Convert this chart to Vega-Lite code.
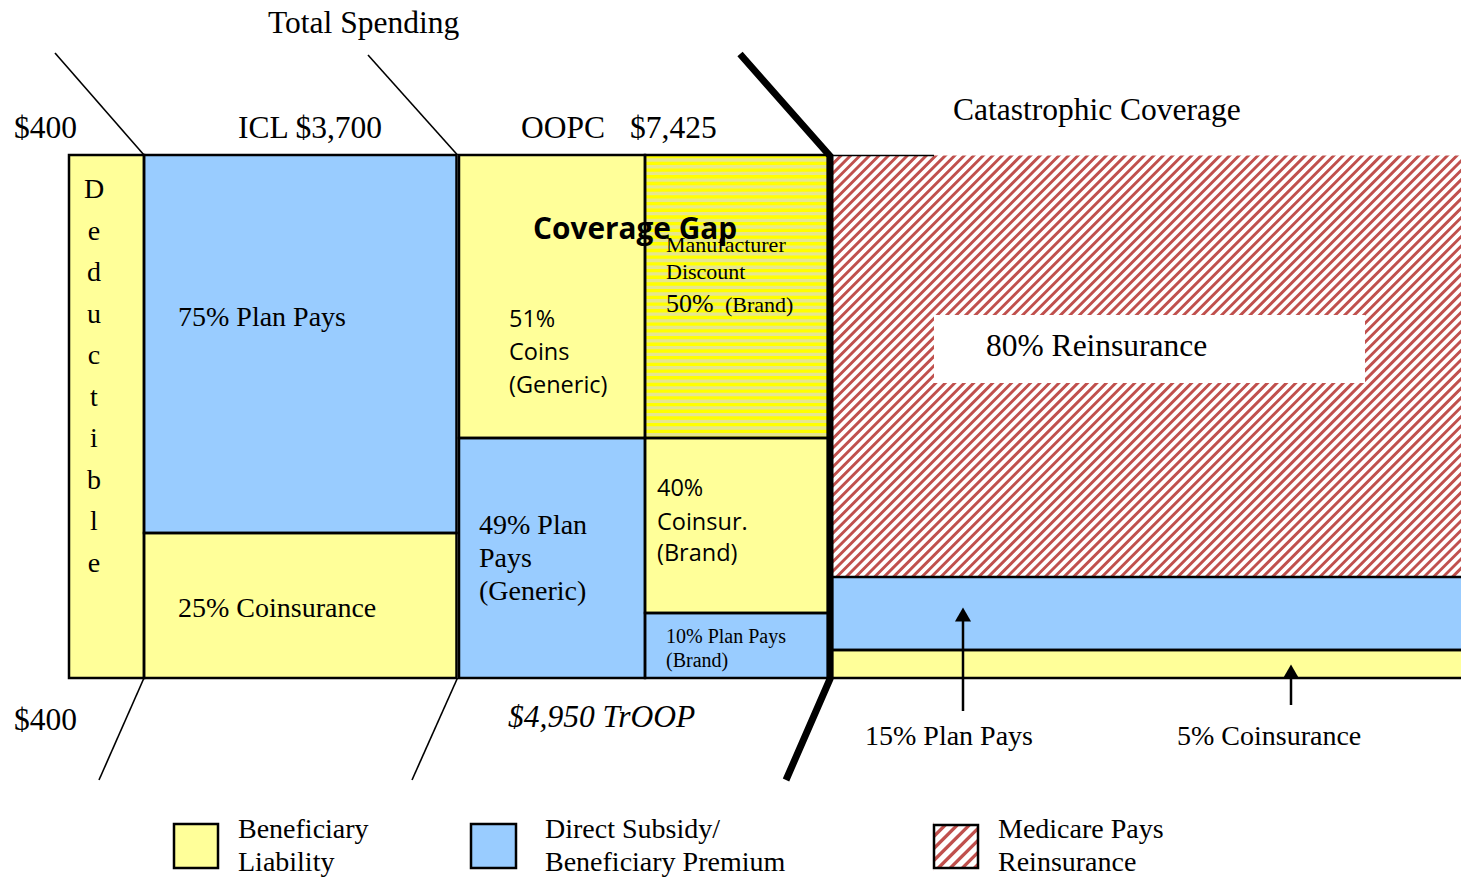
{
  "$schema": "https://vega.github.io/schema/vega-lite/v6.json",
  "width": 1461,
  "height": 877,
  "padding": 0,
  "autosize": {"type": "fit", "contains": "padding"},
  "background": "white",
  "config": {"view": {"stroke": null}, "axis": {"disable": true}, "legend": {"disable": true}},
  "datasets": {
    "hatchMain": [{"x": 877.8, "y": 97.8, "x2": 1415.2, "y2": 635.2}],
    "masksMain": [
      {"x": 0, "y": 0, "x2": 1461, "y2": 155.5},
      {"x": 0, "y": 678.5, "x2": 1461, "y2": 877}
    ],
    "hatchLegend": [{"x": 932.7, "y": 823.2, "x2": 979.3, "y2": 869.8}],
    "masksLegend": [
      {"x": 895, "y": 790, "x2": 933.5, "y2": 877},
      {"x": 978.5, "y": 790, "x2": 1012, "y2": 877},
      {"x": 933.5, "y": 790, "x2": 978.5, "y2": 824.5},
      {"x": 933.5, "y": 868.5, "x2": 978.5, "y2": 877}
    ],
    "rects": [
      {"x": 69, "y": 155, "x2": 144, "y2": 678, "kind": "ben"},
      {"x": 144, "y": 155, "x2": 456.5, "y2": 533, "kind": "sub"},
      {"x": 144, "y": 533, "x2": 456.5, "y2": 678, "kind": "ben"},
      {"x": 459, "y": 155, "x2": 645, "y2": 438, "kind": "ben"},
      {"x": 459, "y": 438, "x2": 645, "y2": 678, "kind": "sub"},
      {"x": 645, "y": 155, "x2": 828, "y2": 438, "kind": "khaki"},
      {"x": 645, "y": 438, "x2": 828, "y2": 613, "kind": "ben"},
      {"x": 645, "y": 613, "x2": 828, "y2": 678, "kind": "sub"},
      {"x": 832, "y": 577, "x2": 1465, "y2": 650, "kind": "sub"},
      {"x": 832, "y": 650, "x2": 1465, "y2": 678, "kind": "ben"},
      {"x": 934, "y": 315, "x2": 1365, "y2": 383, "kind": "white"},
      {"x": 174, "y": 824, "x2": 218, "y2": 868, "kind": "ben"},
      {"x": 471, "y": 824, "x2": 516, "y2": 868, "kind": "sub"},
      {"x": 934, "y": 825, "x2": 978, "y2": 868, "kind": "hatch"}
    ],
    "stripes": [{"x": 736.5, "y": 155, "x2": 736.5, "y2": 438}],
    "thin": [
      {"x": 55, "y": 53, "x2": 144, "y2": 155},
      {"x": 368, "y": 55, "x2": 457.5, "y2": 155},
      {"x": 144, "y": 678, "x2": 99, "y2": 780},
      {"x": 457.5, "y": 678, "x2": 412, "y2": 780},
      {"x": 830, "y": 155.5, "x2": 934, "y2": 155.5}
    ],
    "thick": [
      {"x": 740, "y": 54, "o": 1},
      {"x": 830, "y": 156, "o": 2},
      {"x": 830, "y": 679, "o": 3},
      {"x": 786, "y": 780, "o": 4}
    ],
    "shafts": [
      {"x": 963, "y": 618, "x2": 963, "y2": 711},
      {"x": 1291, "y": 676, "x2": 1291, "y2": 705}
    ],
    "heads": [
      {"x": 963, "y": 614.5},
      {"x": 1291, "y": 671.5}
    ],
    "texts": [
      {"x": 268, "y": 33, "label": "Total Spending", "grp": "big"},
      {"x": 14, "y": 138, "label": "$400", "grp": "big"},
      {"x": 238, "y": 138, "label": "ICL $3,700", "grp": "big"},
      {"x": 521, "y": 138, "label": "OOPC", "grp": "big"},
      {"x": 630, "y": 138, "label": "$7,425", "grp": "big"},
      {"x": 953, "y": 120, "label": "Catastrophic Coverage", "grp": "big"},
      {"x": 14, "y": 730, "label": "$400", "grp": "big"},
      {"x": 986, "y": 356, "label": "80%  Reinsurance", "grp": "big"},
      {"x": 508, "y": 727, "label": "$4,950 TrOOP", "grp": "ital"},
      {"x": 178, "y": 326, "label": "75% Plan Pays", "grp": "med"},
      {"x": 178, "y": 617, "label": "25% Coinsurance", "grp": "med"},
      {"x": 479, "y": 534, "label": "49% Plan", "grp": "med"},
      {"x": 479, "y": 567, "label": "Pays", "grp": "med"},
      {"x": 479, "y": 600, "label": "(Generic)", "grp": "med"},
      {"x": 865, "y": 745, "label": "15% Plan Pays", "grp": "med"},
      {"x": 1177, "y": 745, "label": "5% Coinsurance", "grp": "med"},
      {"x": 238, "y": 838, "label": "Beneficiary", "grp": "med"},
      {"x": 238, "y": 871, "label": "Liability", "grp": "med"},
      {"x": 545, "y": 838, "label": "Direct Subsidy/", "grp": "med"},
      {"x": 545, "y": 871, "label": "Beneficiary Premium", "grp": "med"},
      {"x": 998, "y": 838, "label": "Medicare Pays", "grp": "med"},
      {"x": 998, "y": 871, "label": "Reinsurance", "grp": "med"},
      {"x": 94, "y": 198, "label": "D", "grp": "ded"},
      {"x": 94, "y": 240, "label": "e", "grp": "ded"},
      {"x": 94, "y": 281, "label": "d", "grp": "ded"},
      {"x": 94, "y": 323, "label": "u", "grp": "ded"},
      {"x": 94, "y": 364, "label": "c", "grp": "ded"},
      {"x": 94, "y": 406, "label": "t", "grp": "ded"},
      {"x": 94, "y": 447, "label": "i", "grp": "ded"},
      {"x": 94, "y": 489, "label": "b", "grp": "ded"},
      {"x": 94, "y": 530, "label": "l", "grp": "ded"},
      {"x": 94, "y": 572, "label": "e", "grp": "ded"},
      {"x": 666, "y": 252, "label": "Manufacturer", "grp": "s22"},
      {"x": 666, "y": 279, "label": "Discount", "grp": "s22"},
      {"x": 725, "y": 312, "label": "(Brand)", "grp": "s22"},
      {"x": 666, "y": 312, "label": "50%", "grp": "s26"},
      {"x": 666, "y": 643, "label": "10% Plan Pays", "grp": "s20"},
      {"x": 666, "y": 667, "label": "(Brand)", "grp": "s20"},
      {"x": 533, "y": 239, "label": "Coverage Gap", "grp": "gap"},
      {"x": 509, "y": 327, "label": "51%", "grp": "sans"},
      {"x": 509, "y": 360, "label": "Coins", "grp": "sans"},
      {"x": 509, "y": 393, "label": "(Generic)", "grp": "sans"},
      {"x": 657, "y": 496, "label": "40%", "grp": "sans"},
      {"x": 657, "y": 530, "label": "Coinsur.", "grp": "sans"},
      {"x": 657, "y": 561, "label": "(Brand)", "grp": "sans"}
    ]
  },
  "encoding": {
    "x": {"field": "x", "type": "quantitative", "axis": null, "scale": {"domain": [0, 1461], "nice": false, "zero": false}},
    "y": {"field": "y", "type": "quantitative", "axis": null, "scale": {"domain": [0, 877], "nice": false, "zero": false, "reverse": true}}
  },
  "layer": [
    {
      "data": {"name": "hatchMain"},
      "mark": {"type": "rule", "stroke": "#c0504d", "strokeWidth": 760, "strokeDash": [2.9, 3.8], "clip": true},
      "encoding": {"x2": {"field": "x2"}, "y2": {"field": "y2"}}
    },
    {
      "data": {"name": "masksMain"},
      "mark": {"type": "rect", "fill": "white"},
      "encoding": {"x2": {"field": "x2"}, "y2": {"field": "y2"}}
    },
    {
      "data": {"name": "hatchLegend"},
      "mark": {"type": "rule", "stroke": "#c0504d", "strokeWidth": 66, "strokeDash": [3.3, 5.2], "clip": true},
      "encoding": {"x2": {"field": "x2"}, "y2": {"field": "y2"}}
    },
    {
      "data": {"name": "masksLegend"},
      "mark": {"type": "rect", "fill": "white"},
      "encoding": {"x2": {"field": "x2"}, "y2": {"field": "y2"}}
    },
    {
      "data": {"name": "rects"},
      "mark": {"type": "rect", "clip": true},
      "encoding": {
        "x2": {"field": "x2"},
        "y2": {"field": "y2"},
        "fill": {"field": "kind", "type": "nominal", "legend": null,
          "scale": {"domain": ["ben", "sub", "khaki", "white", "hatch"], "range": ["#ffff99", "#99ccff", "#e6e68f", "#ffffff", "transparent"]}}
      }
    },
    {
      "data": {"name": "stripes"},
      "mark": {"type": "rule", "stroke": "#ffff00", "strokeWidth": 183, "strokeDash": [3.35, 3.35]},
      "encoding": {"x2": {"field": "x2"}, "y2": {"field": "y2"}}
    },
    {
      "data": {"name": "rects"},
      "transform": [{"filter": "datum.kind !== 'white'"}],
      "mark": {"type": "rect", "fill": "transparent", "stroke": "black", "strokeWidth": 2.5, "clip": true},
      "encoding": {"x2": {"field": "x2"}, "y2": {"field": "y2"}}
    },
    {
      "data": {"name": "thin"},
      "mark": {"type": "rule", "stroke": "black", "strokeWidth": 1.6},
      "encoding": {"x2": {"field": "x2"}, "y2": {"field": "y2"}}
    },
    {
      "data": {"name": "thick"},
      "mark": {"type": "line", "stroke": "black", "strokeWidth": 7, "strokeJoin": "miter", "strokeCap": "butt"},
      "encoding": {"order": {"field": "o", "type": "quantitative"}}
    },
    {
      "data": {"name": "shafts"},
      "mark": {"type": "rule", "stroke": "black", "strokeWidth": 2.5},
      "encoding": {"x2": {"field": "x2"}, "y2": {"field": "y2"}}
    },
    {
      "data": {"name": "heads"},
      "mark": {"type": "point", "shape": "triangle-up", "filled": true, "size": 260, "color": "black", "opacity": 1}
    },
    {
      "data": {"name": "texts"},
      "transform": [{"filter": "datum.grp === 'big'"}],
      "mark": {"type": "text", "font": "Liberation Serif", "fontSize": 31.5, "align": "left", "baseline": "alphabetic", "color": "black"},
      "encoding": {"text": {"field": "label"}}
    },
    {
      "data": {"name": "texts"},
      "transform": [{"filter": "datum.grp === 'ital'"}],
      "mark": {"type": "text", "font": "Liberation Serif", "fontStyle": "italic", "fontSize": 31.5, "align": "left", "baseline": "alphabetic", "color": "black"},
      "encoding": {"text": {"field": "label"}}
    },
    {
      "data": {"name": "texts"},
      "transform": [{"filter": "datum.grp === 'med'"}],
      "mark": {"type": "text", "font": "Liberation Serif", "fontSize": 28, "align": "left", "baseline": "alphabetic", "color": "black"},
      "encoding": {"text": {"field": "label"}}
    },
    {
      "data": {"name": "texts"},
      "transform": [{"filter": "datum.grp === 'ded'"}],
      "mark": {"type": "text", "font": "Liberation Serif", "fontSize": 28, "align": "center", "baseline": "alphabetic", "color": "black"},
      "encoding": {"text": {"field": "label"}}
    },
    {
      "data": {"name": "texts"},
      "transform": [{"filter": "datum.grp === 's22'"}],
      "mark": {"type": "text", "font": "Liberation Serif", "fontSize": 22, "align": "left", "baseline": "alphabetic", "color": "black"},
      "encoding": {"text": {"field": "label"}}
    },
    {
      "data": {"name": "texts"},
      "transform": [{"filter": "datum.grp === 's26'"}],
      "mark": {"type": "text", "font": "Liberation Serif", "fontSize": 26, "align": "left", "baseline": "alphabetic", "color": "black"},
      "encoding": {"text": {"field": "label"}}
    },
    {
      "data": {"name": "texts"},
      "transform": [{"filter": "datum.grp === 's20'"}],
      "mark": {"type": "text", "font": "Liberation Serif", "fontSize": 20, "align": "left", "baseline": "alphabetic", "color": "black"},
      "encoding": {"text": {"field": "label"}}
    },
    {
      "data": {"name": "texts"},
      "transform": [{"filter": "datum.grp === 'gap'"}],
      "mark": {"type": "text", "font": "Open Sans", "fontWeight": "bold", "fontSize": 29.8, "align": "left", "baseline": "alphabetic", "color": "black"},
      "encoding": {"text": {"field": "label"}}
    },
    {
      "data": {"name": "texts"},
      "transform": [{"filter": "datum.grp === 'sans'"}],
      "mark": {"type": "text", "font": "Open Sans", "fontSize": 23.5, "align": "left", "baseline": "alphabetic", "color": "black"},
      "encoding": {"text": {"field": "label"}}
    }
  ]
}
